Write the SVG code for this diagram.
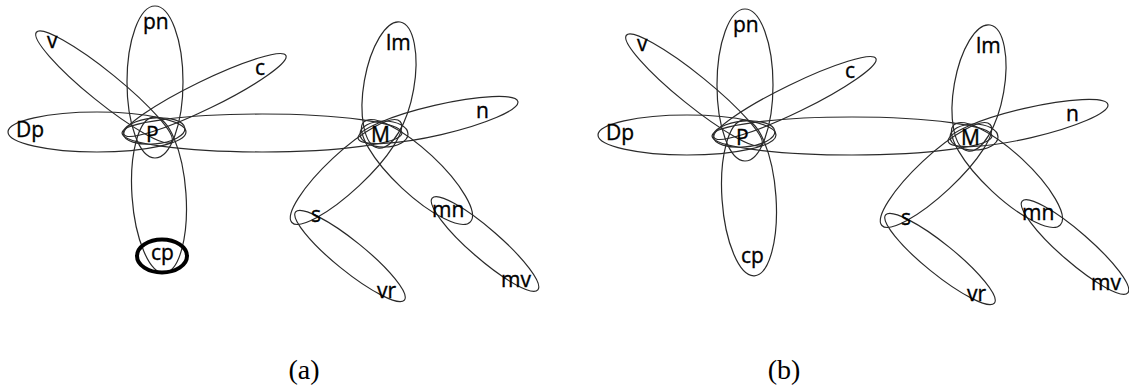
<svg xmlns="http://www.w3.org/2000/svg" width="1129" height="392" viewBox="0 0 1129 392">
<style>
.e{fill:none;stroke:#2a2a2a;stroke-width:1.2}
.k{fill:none;stroke:#000;stroke-width:4}
.t{font-family:"Open Sans","DejaVu Sans",sans-serif;font-size:21px;fill:#000;stroke:#000;stroke-width:0.35}
.cap{font-family:"Liberation Serif","Times New Roman",serif;font-size:28px;fill:#000;text-anchor:middle}
</style>
<rect width="1129" height="392" fill="#fff"/>
<g id="panel-a">
<g id="a-connectors">
<ellipse class="e" cx="155" cy="82" rx="28" ry="76"/>
<ellipse class="e" transform="translate(159,195) rotate(-4)" rx="27" ry="78"/>
<ellipse class="e" cx="97" cy="132" rx="89" ry="20"/>
<ellipse class="e" transform="translate(104,87) rotate(39)" rx="87" ry="15"/>
<ellipse class="e" transform="translate(205,95) rotate(-26)" rx="90" ry="14"/>
<ellipse class="e" cx="262" cy="133" rx="140" ry="19"/>
<ellipse class="e" transform="translate(389,85) rotate(10)" rx="25" ry="64"/>
<ellipse class="e" transform="translate(438,120) rotate(-13)" rx="82" ry="15"/>
<ellipse class="e" transform="translate(346,172) rotate(-43)" rx="74" ry="19"/>
<ellipse class="e" transform="translate(417,172) rotate(43)" rx="73" ry="22"/>
<ellipse class="e" transform="translate(350,256) rotate(39)" rx="70" ry="15"/>
<ellipse class="e" transform="translate(485,244) rotate(41)" rx="70" ry="15"/>
</g>
<g id="a-P"><ellipse class="e" transform="translate(154,131) rotate(-5)" rx="31" ry="13"/><text class="t" x="146" y="142">P</text></g>
<g id="a-M"><ellipse class="e" cx="384" cy="134" rx="24" ry="13"/><text class="t" x="371" y="142">M</text></g>
<g id="a-v"><text class="t" x="47" y="48">v</text></g>
<g id="a-pn"><text class="t" x="143" y="29">pn</text></g>
<g id="a-c"><text class="t" x="255" y="75">c</text></g>
<g id="a-Dp"><text class="t" x="16" y="137">Dp</text></g>
<g id="a-cp"><ellipse class="k" cx="162" cy="256" rx="25" ry="16.5"/><text class="t" x="151" y="260">cp</text></g>
<g id="a-lm"><text class="t" x="386" y="50">lm</text></g>
<g id="a-n"><text class="t" x="476" y="118">n</text></g>
<g id="a-s"><text class="t" x="311" y="222">s</text></g>
<g id="a-mn"><text class="t" x="432" y="217">mn</text></g>
<g id="a-vr"><text class="t" x="377" y="298">vr</text></g>
<g id="a-mv"><text class="t" x="501" y="287">mv</text></g>
<text class="cap" x="304" y="379">(a)</text>
</g>
<g id="panel-b" transform="translate(590,3)">
<g id="b-connectors">
<ellipse class="e" cx="155" cy="82" rx="28" ry="76"/>
<ellipse class="e" transform="translate(159,195) rotate(-4)" rx="27" ry="78"/>
<ellipse class="e" cx="97" cy="132" rx="89" ry="20"/>
<ellipse class="e" transform="translate(104,87) rotate(39)" rx="87" ry="15"/>
<ellipse class="e" transform="translate(205,95) rotate(-26)" rx="90" ry="14"/>
<ellipse class="e" cx="262" cy="133" rx="140" ry="19"/>
<ellipse class="e" transform="translate(389,85) rotate(10)" rx="25" ry="64"/>
<ellipse class="e" transform="translate(438,120) rotate(-13)" rx="82" ry="15"/>
<ellipse class="e" transform="translate(346,172) rotate(-43)" rx="74" ry="19"/>
<ellipse class="e" transform="translate(417,172) rotate(43)" rx="73" ry="22"/>
<ellipse class="e" transform="translate(350,256) rotate(39)" rx="70" ry="15"/>
<ellipse class="e" transform="translate(485,244) rotate(41)" rx="70" ry="15"/>
</g>
<g id="b-P"><ellipse class="e" transform="translate(154,131) rotate(-5)" rx="31" ry="13"/><text class="t" x="146" y="142">P</text></g>
<g id="b-M"><ellipse class="e" cx="384" cy="134" rx="24" ry="13"/><text class="t" x="371" y="142">M</text></g>
<g id="b-v"><text class="t" x="47" y="48">v</text></g>
<g id="b-pn"><text class="t" x="143" y="29">pn</text></g>
<g id="b-c"><text class="t" x="255" y="75">c</text></g>
<g id="b-Dp"><text class="t" x="16" y="137">Dp</text></g>
<g id="b-cp"><text class="t" x="151" y="260">cp</text></g>
<g id="b-lm"><text class="t" x="386" y="50">lm</text></g>
<g id="b-n"><text class="t" x="476" y="118">n</text></g>
<g id="b-s"><text class="t" x="311" y="222">s</text></g>
<g id="b-mn"><text class="t" x="432" y="217">mn</text></g>
<g id="b-vr"><text class="t" x="377" y="298">vr</text></g>
<g id="b-mv"><text class="t" x="501" y="287">mv</text></g>
</g>
<text class="cap" x="784" y="379">(b)</text>
</svg>
